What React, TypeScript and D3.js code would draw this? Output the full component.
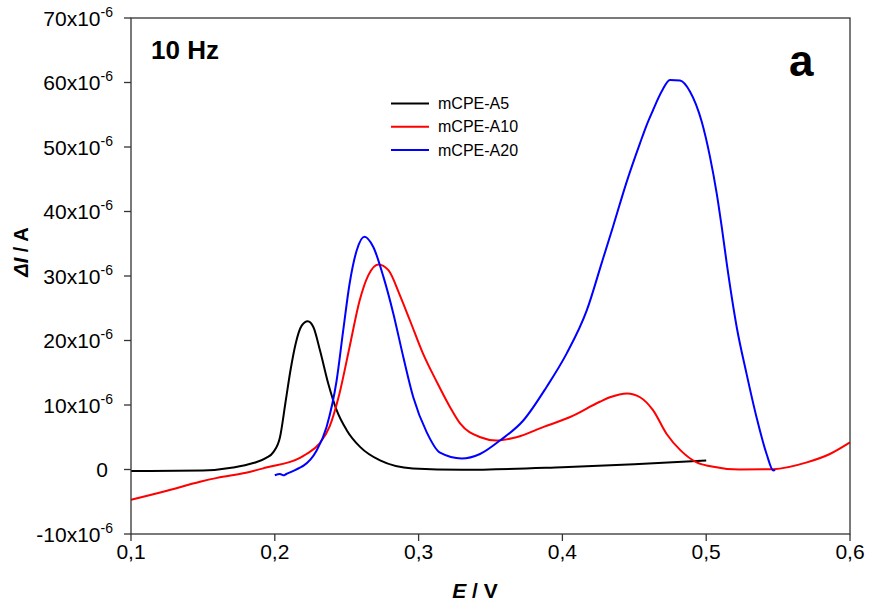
import React from "react";
import * as d3 from "d3";

const W = 869;
const H = 607;

const xTicks = [0.1, 0.2, 0.3, 0.4, 0.5, 0.6];
const xTickLabels = ["0,1", "0,2", "0,3", "0,4", "0,5", "0,6"];
const yTicks = [-10, 0, 10, 20, 30, 40, 50, 60, 70];

const seriesNames = ["mCPE-A5", "mCPE-A10", "mCPE-A20"];
const seriesColors = ["#000000", "#ff0000", "#0000ff"];

// E / V and ΔI / µA (×10^-6 A)
const a5E = [0.10, 0.15, 0.171, 0.185, 0.194, 0.199, 0.2036, 0.2075, 0.211, 0.2145, 0.2187, 0.2229, 0.2268, 0.2314, 0.2372, 0.243, 0.25, 0.2593, 0.2732, 0.296, 0.33, 0.40, 0.45, 0.50];
const a5I = [-0.25, -0.15, 0.3, 1.0, 1.8, 2.7, 5.0, 10.5, 15.5, 19.5, 22.3, 23.0, 22.1, 18.5, 13.3, 9.2, 6.1, 3.5, 1.4, 0.15, -0.05, 0.35, 0.8, 1.4];

const a10E = [0.10, 0.125, 0.148, 0.16, 0.18, 0.194, 0.2175, 0.222, 0.231, 0.238, 0.245, 0.252, 0.259, 0.265, 0.272, 0.279, 0.287, 0.294, 0.303, 0.3126, 0.3218, 0.329, 0.343, 0.354, 0.368, 0.387, 0.405, 0.426, 0.433, 0.445, 0.454, 0.463, 0.4725, 0.482, 0.4934, 0.503, 0.523, 0.5467, 0.57, 0.586, 0.60];
const a10I = [-4.7, -3.3, -1.9, -1.3, -0.5, 0.3, 1.8, 2.4, 4.0, 6.6, 11.8, 19, 26.2, 30.1, 31.8, 30.9, 27.0, 23.1, 18, 13.6, 9.7, 7.1, 5.0, 4.5, 5.0, 6.6, 8.1, 10.5, 11.2, 11.8, 11.2, 9.2, 5.5, 3.0, 1.1, 0.5, 0.0, 0.05, 1.1, 2.4, 4.2];

const a20E = [0.200, 0.2036, 0.206, 0.208, 0.2175, 0.22, 0.229, 0.236, 0.243, 0.2476, 0.252, 0.257, 0.2623, 0.2685, 0.2755, 0.2824, 0.2894, 0.2963, 0.3056, 0.3149, 0.33, 0.3427, 0.3566, 0.3728, 0.389, 0.403, 0.417, 0.4273, 0.4354, 0.4447, 0.454, 0.4586, 0.463, 0.469, 0.4748, 0.4818, 0.4887, 0.4969, 0.5026, 0.5073, 0.5108, 0.5145, 0.5212, 0.528, 0.535, 0.542, 0.5467, 0.548];
const a20I = [-0.9, -0.7, -0.9, -0.7, 0.3, 0.6, 2.9, 6.6, 13.8, 21.6, 28.8, 34, 36.1, 34.5, 29.9, 24.2, 17.4, 11.2, 5.8, 2.6, 1.7, 2.4, 4.5, 7.6, 12.8, 18.0, 24.7, 32.0, 37.8, 44.6, 50.6, 53.4, 55.7, 58.6, 60.4, 60.3, 58.6, 53.9, 48.5, 42.8, 37.6, 31.6, 22.1, 14.9, 8.1, 2.4, -0.15, -0.1];

const series = [
  { e: a5E, i: a5I },
  { e: a10E, i: a10I },
  { e: a20E, i: a20I },
];

const L = 131, R = 850, T = 18, B = 534;

export default function App() {
  const x = d3.scaleLinear().domain([0.1, 0.6]).range([L, R]);
  const y = d3.scaleLinear().domain([-10, 70]).range([B, T]);
  const line = d3
    .line<[number, number]>()
    .x((d) => x(d[0]))
    .y((d) => y(d[1]))
    .curve(d3.curveMonotoneX);

  const font = "Arial, 'Liberation Sans', Helvetica, sans-serif";

  return (
    <div style={{ position: "fixed", left: 0, top: 0 }}>
      <svg width={W} height={H} style={{ display: "block", background: "#fff" }} fontFamily={font}>
        <rect x={0} y={0} width={W} height={H} fill="#fff" />
        {/* data */}
        {series.map((s, k) => (
          <path
            key={k}
            d={line(s.e.map((e, j) => [e, s.i[j]] as [number, number])) || ""}
            fill="none"
            stroke={seriesColors[k]}
            strokeWidth={2}
            strokeLinejoin="round"
          />
        ))}
        {/* frame */}
        <rect x={L} y={T} width={R - L} height={B - T} fill="none" stroke="#333" strokeWidth={1.3} />
        {/* y ticks */}
        {yTicks.map((t) => (
          <g key={t}>
            <line x1={L - 7} x2={L} y1={y(t)} y2={y(t)} stroke="#333" strokeWidth={1.3} />
            {t === 0 ? (
              <text x={108} y={y(t) + 7.5} textAnchor="end" fontSize={21} fill="#000">0</text>
            ) : (
              <text x={113} y={y(t) + 7.5} textAnchor="end" fontSize={21} fill="#000">
                {`${t}x10`}
                <tspan fontSize={14} dy={-9}>-6</tspan>
              </text>
            )}
          </g>
        ))}
        {/* x ticks */}
        {xTicks.map((t, k) => (
          <g key={t}>
            <line x1={x(t)} x2={x(t)} y1={B} y2={B + 7} stroke="#333" strokeWidth={1.3} />
            <text x={x(t)} y={559} textAnchor="middle" fontSize={21} fill="#000">{xTickLabels[k]}</text>
          </g>
        ))}
        {/* axis titles */}
        <text x={475} y={598} textAnchor="middle" fontSize={21} fontWeight="bold" fill="#000">
          <tspan fontStyle="italic">E</tspan> / V
        </text>
        <text transform="translate(28,252) rotate(-90)" textAnchor="middle" fontSize={20} fontWeight="bold" fill="#000">
          <tspan fontStyle="italic">ΔI</tspan> / A
        </text>
        {/* annotations */}
        <text x={151} y={59} fontSize={26} fontWeight="bold" fill="#000">10 Hz</text>
        <text x={789} y={76} fontSize={44} fontWeight="bold" fill="#000">a</text>
        {/* legend */}
        {seriesNames.map((n, k) => (
          <g key={n}>
            <line x1={391} x2={429} y1={103.5 + k * 23.3} y2={103.5 + k * 23.3} stroke={seriesColors[k]} strokeWidth={2} />
            <text x={438} y={103.5 + k * 23.3 + 5.5} fontSize={16} fill="#000">{n}</text>
          </g>
        ))}
      </svg>
    </div>
  );
}
